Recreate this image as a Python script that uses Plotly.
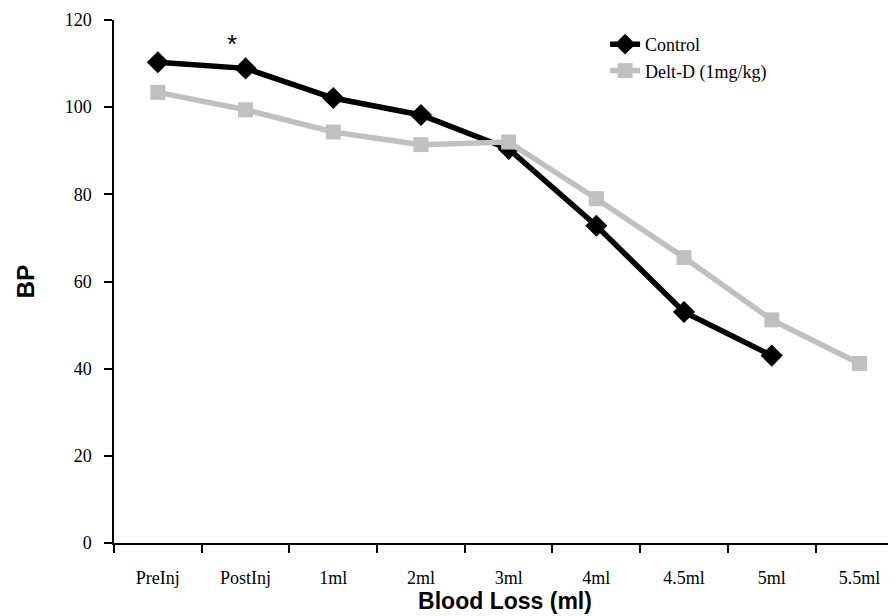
import plotly.graph_objects as go

categories = ["PreInj", "PostInj", "1ml", "2ml", "3ml", "4ml", "4.5ml", "5ml", "5.5ml"]
control = [110.3, 108.9, 102.1, 98.2, 90.4, 72.8, 53.0, 43.0]
delt_d = [103.4, 99.4, 94.3, 91.4, 92.0, 79.0, 65.5, 51.2, 41.2]
y_ticks = [0, 20, 40, 60, 80, 100, 120]

serif = "Liberation Serif, Times New Roman, serif"
sans = "Liberation Sans, Arial, sans-serif"

fig = go.Figure()
fig.add_trace(go.Scatter(
    x=categories[:len(control)], y=control, name="Control",
    mode="lines+markers", legendgroup="a",
    line=dict(color="black", width=5.5),
    marker=dict(symbol="diamond", size=17, color="black"),
))
fig.add_trace(go.Scatter(
    x=categories, y=delt_d, name="Delt-D (1mg/kg)",
    mode="lines+markers", legendgroup="b",
    line=dict(color="#c0c0c0", width=5.5),
    marker=dict(symbol="square", size=15, color="#c0c0c0"),
))

fig.add_annotation(x=0.84, y=114.5, xref="x", yref="y", text="*", showarrow=False,
                   font=dict(family=sans, size=26, color="black"), yanchor="middle")

fig.update_layout(
    width=888, height=608,
    margin=dict(l=106, r=0, t=12, b=73, autoexpand=False),
    paper_bgcolor="white", plot_bgcolor="white",
    showlegend=True,
    legend=dict(x=0.628, y=0.9885, xanchor="left", yanchor="top",
                font=dict(family=serif, size=18, color="black"),
                traceorder="grouped", tracegroupgap=0,
                bgcolor="rgba(0,0,0,0)"),
    xaxis=dict(type="category", categoryorder="array", categoryarray=categories,
               range=[-0.5, 8.417], tickson="boundaries", ticks="outside",
               ticklen=8, tickcolor="black", tickwidth=1.5,
               showline=True, linecolor="black", linewidth=1.5,
               showgrid=False, zeroline=False, ticklabelstandoff=18,
               automargin=False,
               tickfont=dict(family=serif, size=18, color="black"),
               title=dict(text="<b>Blood Loss (ml)</b>", standoff=6,
                          font=dict(family=sans, size=23, color="black"))),
    yaxis=dict(range=[0, 120], tickvals=y_ticks, ticks="outside", ticklen=8,
               tickcolor="black", tickwidth=1.5,
               showline=True, linecolor="black", linewidth=1.5,
               showgrid=False, zeroline=False, ticklabelstandoff=9,
               automargin=False,
               tickfont=dict(family=serif, size=18, color="black"),
               title=dict(text="<b>BP</b>", standoff=23,
                          font=dict(family=sans, size=24, color="black"))),
)

fig.write_html("out.html")
